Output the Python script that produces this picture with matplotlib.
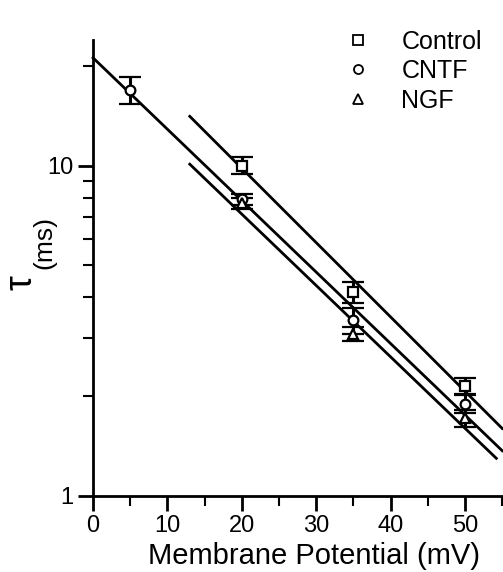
import numpy as np
import matplotlib
matplotlib.use('Agg')
from matplotlib import pyplot as plt
from matplotlib.lines import Line2D
from matplotlib.ticker import FixedLocator, NullFormatter, MultipleLocator

plt.rcParams['font.family'] = ['Liberation Sans', 'DejaVu Sans']

# Data
control_v = [20, 35, 50]
control_tau = [10.0, 4.15, 2.15]
control_err = [0.6, 0.3, 0.12]

cntf_v = [5, 20, 35, 50]
cntf_tau = [17.0, 7.9, 3.4, 1.9]
cntf_err = [1.6, 0.3, 0.3, 0.12]

ngf_v = [20, 35, 50]
ngf_tau = [7.7, 3.1, 1.72]
ngf_err = [0.3, 0.15, 0.1]

# fitted exponential lines (end points)
fit_cntf_v = [0, 55]
fit_cntf_tau = [21.2, 1.37]
fit_control_v = [13, 55]
fit_control_tau = [14.1, 1.6]
fit_ngf_v = [13, 54.2]
fit_ngf_tau = [10.1, 1.3]

fig = plt.figure(figsize=(5.03, 5.72), dpi=100)
ax = fig.add_axes([0.185, 0.133, 0.815, 0.797])

# fit lines
for fv, ft in [(fit_cntf_v, fit_cntf_tau), (fit_control_v, fit_control_tau), (fit_ngf_v, fit_ngf_tau)]:
    ax.plot(fv, ft, color='black', lw=2, clip_on=False)

# data points with error bars
eb = dict(color='black', mfc='white', mec='black', ms=7, mew=1.6, ls='none',
          elinewidth=2.2, capsize=8, capthick=2.4, zorder=3)
ax.errorbar(control_v, control_tau, yerr=control_err, marker='s', **eb)
ax.errorbar(cntf_v, cntf_tau, yerr=cntf_err, marker='o', **eb)
ax.errorbar(ngf_v, ngf_tau, yerr=ngf_err, marker='^', **eb)

ax.set_yscale('log')
ax.set_xlim(0, 55.1)
ax.set_ylim(1, 24)

ax.yaxis.set_major_locator(FixedLocator([1, 10]))
ax.yaxis.set_minor_locator(FixedLocator([2, 3, 4, 5, 6, 7, 8, 9, 20]))
ax.yaxis.set_minor_formatter(NullFormatter())
ax.set_yticklabels(['1', '10'])
ax.xaxis.set_major_locator(MultipleLocator(10))
ax.xaxis.set_minor_locator(MultipleLocator(5))

for s in ['top', 'right']:
    ax.spines[s].set_visible(False)
for s in ['left', 'bottom']:
    ax.spines[s].set_linewidth(2)

ax.tick_params(which='major', direction='out', length=11, width=2, labelsize=17, pad=3)
ax.tick_params(which='minor', direction='out', length=7, width=1.5)

ax.set_xlabel('Membrane Potential (mV)', fontsize=21)
ax.xaxis.set_label_coords(0.54, -0.1)

# y label: tau with subscript (ms)
fig.text(21 / 503, 1 - 283 / 572, '\u03c4', fontsize=27, rotation=90, ha='center', va='center')
fig.text(44 / 503, 1 - 242 / 572, '(ms)', fontsize=19, rotation=90, ha='center', va='center')

# legend
handles = [Line2D([], [], marker='s', color='black', mfc='white', ls='none', ms=6.5, mew=1.3),
           Line2D([], [], marker='o', color='black', mfc='white', ls='none', ms=6.5, mew=1.3),
           Line2D([], [], marker='^', color='black', mfc='white', ls='none', ms=6.5, mew=1.3)]
ax.legend(handles, ['Control', 'CNTF', 'NGF'], loc='upper left', bbox_to_anchor=(0.56, 1.045),
          frameon=False, fontsize=18, handletextpad=0.75, labelspacing=0.22, borderaxespad=0)

fig.savefig('out.png', dpi=100)
